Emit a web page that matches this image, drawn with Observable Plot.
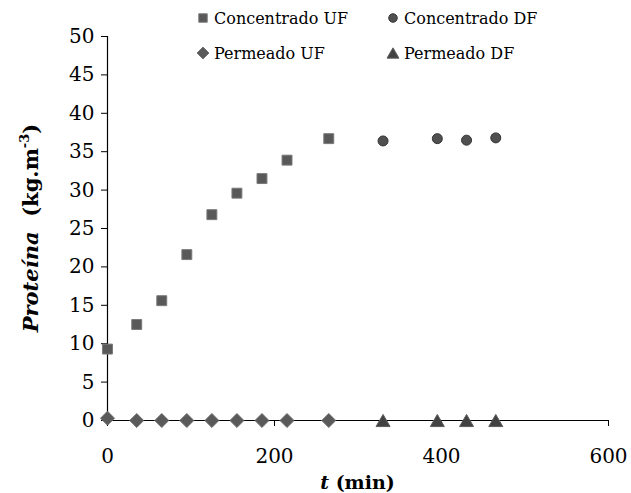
<!DOCTYPE html>
<html>
<head>
<meta charset="utf-8">
<script src="https://cdn.jsdelivr.net/npm/d3@7"></script>
<script src="https://cdn.jsdelivr.net/npm/@observablehq/plot@0.6"></script>
<style>
  html, body { margin: 0; padding: 0; background: #fff; }
  #wrap { position: relative; width: 631px; height: 493px; font-family: "DejaVu Serif", serif; }
  #legend { position: absolute; left: 196px; top: 6px; display: grid;
            grid-template-columns: 190px 190px; row-gap: 11px; font-size: 16px; color: #000; }
  #legend .item { display: flex; align-items: center; height: 24px; white-space: nowrap; }
  #legend svg { margin-right: 4px; }
</style>
</head>
<body>
<div id="wrap"><div id="legend"></div></div>
<script>
// Ultrafiltration (UF) followed by diafiltration (DF): protein in concentrate and permeate
const tUF = [0, 35, 65, 95, 125, 155, 185, 215, 265];
const concentradoUF = [9.3, 12.5, 15.6, 21.6, 26.8, 29.6, 31.5, 33.9, 36.7];
const permeadoUF = [0.3, 0, 0, 0, 0, 0, 0, 0, 0];
const tDF = [330, 395, 430, 465];
const concentradoDF = [36.4, 36.7, 36.5, 36.8];
const permeadoDF = [0, 0, 0, 0];

const xTicks = [0, 200, 400, 600];
const yTicks = [0, 5, 10, 15, 20, 25, 30, 35, 40, 45, 50];

const seriesNames = ["Concentrado UF", "Concentrado DF", "Permeado UF", "Permeado DF"];

// triangle centred on its bounding box rather than its centroid
const triangleBox = {
  draw(context, size) {
    const y = Math.sqrt(size / (3 * Math.sqrt(3)));
    const h = 3 * y, w = 2 * Math.sqrt(3) * y;
    context.moveTo(0, -h / 2);
    context.lineTo(w / 2, h / 2);
    context.lineTo(-w / 2, h / 2);
    context.closePath();
  }
};

const styles = {
  "Concentrado UF": {symbol: d3.symbolSquare, r: 5.6, fill: "#595959", stroke: "#7a7a7a"},
  "Concentrado DF": {symbol: d3.symbolCircle, r: 5, fill: "#505050", stroke: "#333333"},
  "Permeado UF": {symbol: d3.symbolDiamond2, r: 6.3, fill: "#5a5a5a", stroke: "#6e6e6e"},
  "Permeado DF": {symbol: triangleBox, r: 5.2, fill: "#424242", stroke: "#5c5c5c"}
};

const rows = (name, t, v) => t.map((ti, i) => ({serie: name, t: ti, v: v[i]}));
const data = {
  "Concentrado UF": rows("Concentrado UF", tUF, concentradoUF),
  "Concentrado DF": rows("Concentrado DF", tDF, concentradoDF),
  "Permeado UF": rows("Permeado UF", tUF, permeadoUF),
  "Permeado DF": rows("Permeado DF", tDF, permeadoDF)
};

const mL = 107, mR = 23, mT = 36, mB = 73, W = 631, H = 493;

const dotMark = (name) => Plot.dot(data[name], {
  x: "t", y: "v",
  symbol: styles[name].symbol,
  r: styles[name].r,
  fill: styles[name].fill,
  stroke: styles[name].stroke,
  strokeWidth: 1
});

const chart = Plot.plot({
  width: W, height: H,
  marginLeft: mL, marginRight: mR, marginTop: mT, marginBottom: mB,
  style: {fontFamily: "DejaVu Serif", color: "#000", background: "transparent", overflow: "visible"},
  x: {domain: [0, 600]},
  y: {domain: [0, 50]},
  marks: [
    Plot.axisX({ticks: xTicks, tickSize: 6, tickPadding: 22, fontSize: 20, label: null, stroke: "#000"}),
    Plot.axisY({ticks: yTicks, tickSize: 6, tickPadding: 7, fontSize: 20, label: null, stroke: "#000"}),
    Plot.ruleY([0], {stroke: "#000", strokeWidth: 1.2}),
    Plot.ruleX([0], {stroke: "#000", strokeWidth: 1.2}),
    dotMark("Permeado UF"),
    dotMark("Permeado DF"),
    dotMark("Concentrado UF"),
    dotMark("Concentrado DF")
  ]
});

const wrap = document.getElementById("wrap");
wrap.insertBefore(chart, wrap.firstChild);

// axis titles with italic variable names and superscript unit
const svg = d3.select(chart);
const xt = svg.append("text")
  .attr("x", mL + (W - mL - mR) / 2).attr("y", H - 4)
  .attr("text-anchor", "middle").attr("font-size", 19).attr("font-weight", "bold");
xt.append("tspan").attr("font-style", "italic").text("t");
xt.append("tspan").text(" (min)");

const yt = svg.append("text")
  .attr("transform", `translate(38,${mT + (H - mT - mB) / 2}) rotate(-90)`)
  .attr("text-anchor", "middle").attr("font-size", 21).attr("font-weight", "bold");
yt.append("tspan").attr("font-style", "italic").text("Proteína");
yt.append("tspan").text("  (kg.m");
yt.append("tspan").attr("font-size", 13).attr("dy", -9).text("-3");
yt.append("tspan").attr("dy", 9).text(")");

// legend: two rows of swatches
const legend = d3.select("#legend");
seriesNames.forEach(name => {
  const item = legend.append("div").attr("class", "item");
  const s = item.append("svg").attr("width", 14).attr("height", 14);
  const st = styles[name];
  const rr = st.r * 0.85;
  s.append("path")
    .attr("transform", "translate(7,7)")
    .attr("d", d3.symbol(st.symbol, Math.PI * rr * rr)())
    .attr("fill", st.fill).attr("stroke", st.stroke);
  item.append("span").text(name);
});
</script>
</body>
</html>
